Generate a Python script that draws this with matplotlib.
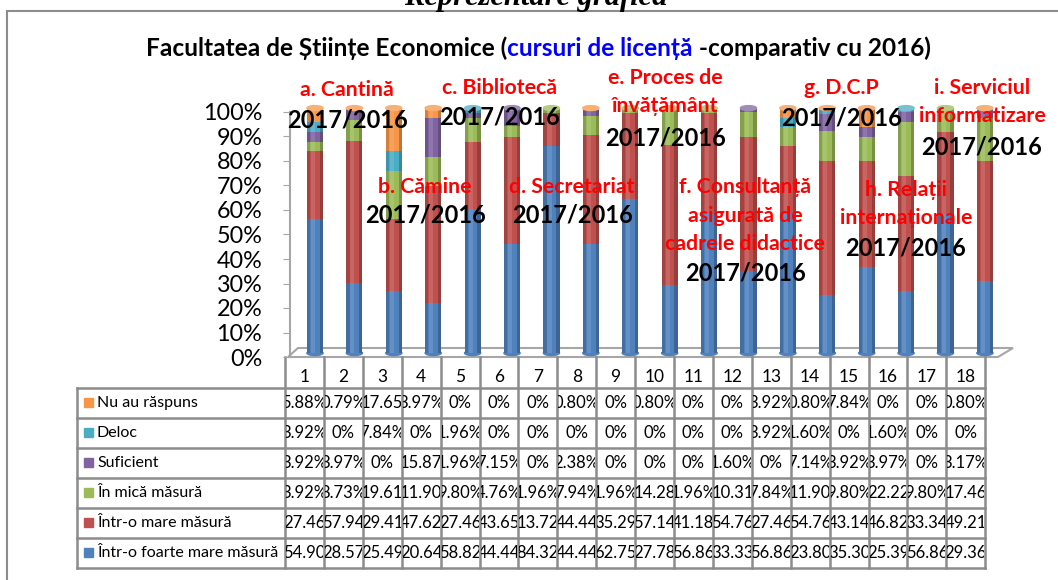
import matplotlib
matplotlib.use('Agg')
import matplotlib.pyplot as plt
from matplotlib.patches import Rectangle, Ellipse, Polygon
from matplotlib.transforms import Bbox
from matplotlib.colors import to_rgb

plt.rcParams['font.family'] = ['Lato', 'DejaVu Sans']

# date din tabel (procente)
coloane = [str(i) for i in range(1, 19)]
serii = ['Într-o foarte mare măsură', 'Într-o mare măsură', 'În mică măsură',
         'Suficient', 'Deloc', 'Nu au răspuns']
foarte_mare = [54.90, 28.57, 25.49, 20.64, 58.82, 44.44, 84.32, 44.44, 62.75,
               27.78, 56.86, 33.33, 56.86, 23.80, 35.30, 25.39, 56.86, 29.36]
mare = [27.46, 57.94, 29.41, 47.62, 27.46, 43.65, 13.72, 44.44, 35.29,
        57.14, 41.18, 54.76, 27.46, 54.76, 43.14, 46.82, 33.34, 49.21]
mica = [3.92, 8.73, 19.61, 11.90, 9.80, 4.76, 1.96, 7.94, 1.96,
        14.28, 1.96, 10.31, 7.84, 11.90, 9.80, 22.22, 9.80, 17.46]
suficient = [3.92, 3.97, 0, 15.87, 1.96, 7.15, 0, 2.38, 0,
             0, 0, 1.60, 0, 7.14, 3.92, 3.97, 0, 3.17]
deloc = [3.92, 0, 7.84, 0, 1.96, 0, 0, 0, 0,
         0, 0, 0, 3.92, 1.60, 0, 1.60, 0, 0]
nu_raspuns = [5.88, 0.79, 17.65, 3.97, 0, 0, 0, 0.80, 0,
              0.80, 0, 0, 3.92, 0.80, 7.84, 0, 0, 0.80]
valori = [foarte_mare, mare, mica, suficient, deloc, nu_raspuns]
culori = ['#4F81BD', '#C0504D', '#9BBB59', '#8064A2', '#4BACC6', '#F79646']

# etichete text (categorie, pozitie in pixeli)
etichete = [
    (['a. Cantină'], 347, 90, 120),
    (['c. Bibliotecă'], 500, 88, 117),
    (['e. Proces de', 'învățământ'], 665, 78, 138),
    (['g. D.C.P'], 841, 88, 118),
    (['i. Serviciul', 'informatizare'], 982, 88, 147),
    (['b. Cămine'], 425, 187, 215),
    (['d. Secretariat'], 572, 187, 215),
    (['f. Consultanță', 'asigurată de', 'cadrele didactice'], 745, 187, 273),
    (['h. Relații', 'internaționale'], 906, 190, 248),
]

W, H = 1058, 580
fig = plt.figure(figsize=(W / 100, H / 100), dpi=100)
fig.patch.set_facecolor('white')

# strat de fundal in coordonate pixel (chenar, podea, tabel)
ov = fig.add_axes([0, 0, 1, 1], zorder=-1)
ov.set_xlim(0, W)
ov.set_ylim(H, 0)
ov.axis('off')

gri = '#8c8c8c'
ov.plot([7, W], [11, 11], color=gri, lw=1.5)
ov.plot([7, 7], [11, H], color=gri, lw=1.5)

# podeaua 3D
ov.add_patch(Polygon([(288, 357), (298, 348), (1013, 348), (998, 357)],
                     closed=True, fill=False, edgecolor='#a6a6a6', lw=1.5))

# graficul
ax = fig.add_axes([290 / W, (H - 357) / H, (1005 - 290) / W, 245 / H])
ax.patch.set_visible(False)
ax.set_xlim(-0.634, 17.51)
ax.set_ylim(0, 100)
for s in ['top', 'right', 'bottom']:
    ax.spines[s].set_visible(False)
ax.spines['left'].set_color('#a6a6a6')
ax.spines['left'].set_linewidth(1.5)
ax.set_xticks([])
ax.set_yticks(range(0, 101, 10))
ax.set_yticklabels([f'{v}%' for v in range(0, 101, 10)])
ax.tick_params(axis='y', direction='out', length=5, color='#a6a6a6',
               labelsize=16.8, pad=15)

lift = 1.6
w = 0.41
x = list(range(len(coloane)))


def lighten(c, f):
    r, g, b = to_rgb(c)
    return (r + (1 - r) * f, g + (1 - g) * f, b + (1 - b) * f)


for i in x:
    jos = lift
    top_col = culori[0]
    for vals, c in zip(valori, culori):
        v = vals[i]
        if v > 0:
            ax.bar(i, v, bottom=jos, width=w, color=c, clip_on=False, zorder=2)
            jos += v
            top_col = c
    # umbrire cilindru
    total = jos - lift
    ax.bar(i - w * 0.4, total, bottom=lift, width=w * 0.2, color='black',
           alpha=0.14, clip_on=False, zorder=3)
    ax.bar(i + w * 0.4, total, bottom=lift, width=w * 0.2, color='black',
           alpha=0.22, clip_on=False, zorder=3)
    ax.bar(i - w * 0.12, total, bottom=lift, width=w * 0.25, color='white',
           alpha=0.12, clip_on=False, zorder=3)
    ax.add_patch(Ellipse((i, lift), w, 2.0, color=culori[0], zorder=1, clip_on=False))
    ax.add_patch(Ellipse((i, jos), w, 2.0, color=lighten(top_col, 0.25),
                         zorder=4, clip_on=False))

# tabelul de date
x0, cw = 285, 38.9
lab_x = 77
rows_y = [388, 418, 448, 478, 508, 538, 568]
for k in range(len(coloane) + 1):
    ov.plot([x0 + k * cw] * 2, [357, 568], color=gri, lw=1.8)
ov.plot([lab_x, lab_x], [388, 568], color=gri, lw=1.8)
for y in rows_y:
    ov.plot([lab_x, x0 + len(coloane) * cw], [y, y], color=gri, lw=1.8)

for k, c in enumerate(coloane):
    ov.text(x0 + (k + 0.5) * cw, 377, c, ha='center', va='center', fontsize=12.5)


def fmt(v):
    if v == 0:
        return '0%'
    if v < 10:
        return f'{v:.2f}%'
    return f'{v:.2f}'


ordine = list(zip(serii, valori, culori))[::-1]
for r, (nume, vals, c) in enumerate(ordine):
    ya, yb = rows_y[r], rows_y[r + 1]
    ym = (ya + yb) / 2
    ov.add_patch(Rectangle((84, ym - 5), 9, 9, color=c))
    ov.text(97, ym, nume, ha='left', va='center', fontsize=11.5)
    for k, v in enumerate(vals):
        xa = x0 + k * cw
        t = ov.text(xa + cw / 2, ym, fmt(v), ha='center', va='center',
                    fontsize=12, clip_on=True)
        t.set_clip_box(Bbox.from_extents(xa + 1, H - yb, xa + cw - 1, H - ya))

# titluri
fig.text(536 / W, 1 - 5 / H, 'Reprezentare grafică', ha='center', va='baseline',
         fontsize=22, fontweight='bold', fontstyle='italic',
         family=['Liberation Serif', 'DejaVu Serif'])

parti = [('Facultatea de Științe Economice (', 'black'),
         ('cursuri de licență', '#0000ff'),
         (' -comparativ cu 2016)', 'black')]
r = fig.canvas.get_renderer()
texte = []
for s, c in parti:
    t = fig.text(0, 1 - 48 / H, s, ha='left', va='center', fontsize=17.6,
                 fontweight='bold', color=c)
    texte.append(t)
lat = [t.get_window_extent(r).width for t in texte]
start = 538.5 - sum(lat) / 2
for t, wd in zip(texte, lat):
    t.set_x(start / W)
    start += wd

for linii, cx, y_sus, y_an in etichete:
    for j, s in enumerate(linii):
        fig.text(cx / W, 1 - (y_sus + j * 28.5) / H, s, ha='center', va='center',
                 fontsize=15.3, fontweight='bold', color='#ff0000', zorder=5)
    fig.text(cx / W, 1 - y_an / H, '2017/2016', ha='center', va='center',
             fontsize=17, fontweight='bold', color='black', zorder=5)

fig.savefig('out.png', dpi=100)
